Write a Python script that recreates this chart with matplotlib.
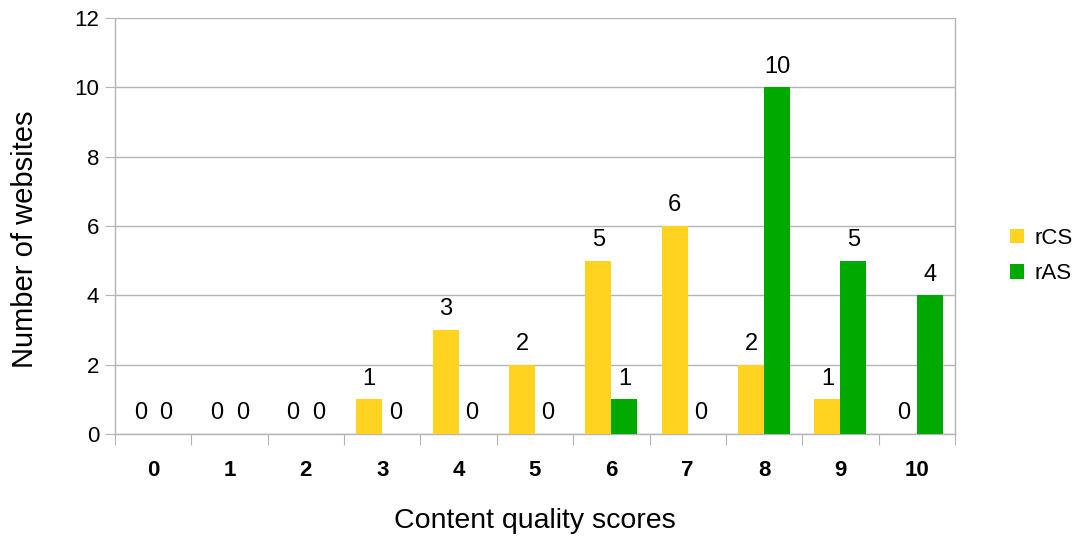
import matplotlib

matplotlib.use("Agg")
import matplotlib.pyplot as plt
import numpy as np
from matplotlib.ticker import FixedLocator, NullFormatter

scores = ["0", "1", "2", "3", "4", "5", "6", "7", "8", "9", "10"]
rcs_counts = [0, 0, 0, 1, 3, 2, 5, 6, 2, 1, 0]
ras_counts = [0, 0, 0, 0, 0, 0, 1, 0, 10, 5, 4]
y_ticks = [0, 2, 4, 6, 8, 10, 12]

YELLOW = "#ffd320"
GREEN = "#00a900"
GRID = "#b3b3b3"

plt.rcParams["font.family"] = ["Liberation Sans", "DejaVu Sans"]

fig = plt.figure(figsize=(10.79, 5.41), dpi=100)
ax = fig.add_axes([115 / 1079, 1 - 434 / 541, 840 / 1079, 416 / 541])

x = np.arange(len(scores))
width = 0.34
bars_rcs = ax.bar(x - width / 2, rcs_counts, width=width, color=YELLOW, label="rCS", zorder=3)
bars_ras = ax.bar(x + width / 2, ras_counts, width=width, color=GREEN, label="rAS", zorder=3)

for bars in (bars_rcs, bars_ras):
    for b in bars:
        h = b.get_height()
        ax.annotate(f"{h:g}", (b.get_x() + b.get_width() / 2, h), xytext=(0, 7),
                    textcoords="offset points", ha="center", va="bottom", fontsize=17)

ax.set_xlim(-0.5, len(scores) - 0.5)
ax.set_ylim(0, 12)
ax.set_yticks(y_ticks)
ax.tick_params(axis="y", labelsize=16, length=7.5, color=GRID, pad=4)

# category boundaries as major ticks, labels at category centres
ax.xaxis.set_major_locator(FixedLocator(np.arange(len(scores) + 1) - 0.5))
ax.xaxis.set_major_formatter(NullFormatter())
ax.xaxis.set_minor_locator(FixedLocator(x))
ax.set_xticklabels(scores, minor=True, fontsize=16, fontweight="bold")
ax.tick_params(axis="x", which="major", length=8, color=GRID)
ax.tick_params(axis="x", which="minor", length=0, pad=19)

ax.grid(axis="y", color=GRID, linewidth=1, zorder=0)
ax.set_axisbelow(True)
for spine in ax.spines.values():
    spine.set_color(GRID)
    spine.set_linewidth(1)
ax.spines["top"].set_visible(False)

ax.set_xlabel("Content quality scores", fontsize=20.5, labelpad=19)
ax.set_ylabel("Number of websites", fontsize=21)
ax.yaxis.set_label_coords(-0.09, 0.469)

ax.legend(loc="center left", bbox_to_anchor=(1 + 55 / 840, 0.428), frameon=False, fontsize=16,
          borderaxespad=0, borderpad=0, handlelength=0.65, handleheight=0.65,
          handletextpad=0.45, labelspacing=0.65)

fig.savefig("out.png", dpi=100)
